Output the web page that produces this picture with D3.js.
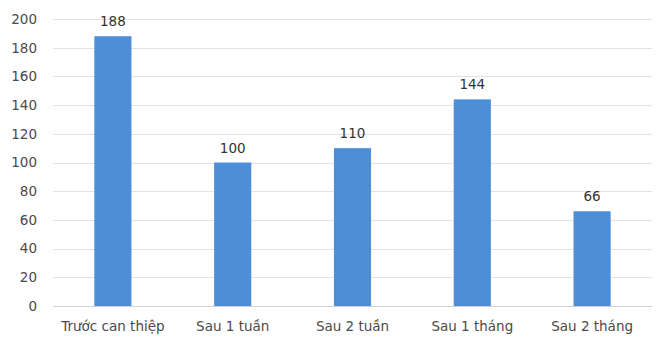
<!DOCTYPE html>
<html>
<head>
<meta charset="utf-8">
<script src="https://cdn.jsdelivr.net/npm/d3@7"></script>
<style>
  html, body { margin: 0; padding: 0; background: #fff; }
  svg { display: block; }
</style>
</head>
<body>
<svg id="chart" width="656" height="338"></svg>
<script>
// Stage labels and counts
const categories = ["Trước can thiệp", "Sau 1 tuần", "Sau 2 tuần", "Sau 1 tháng", "Sau 2 tháng"];
const values = [188, 100, 110, 144, 66];
const yTicks = [0, 20, 40, 60, 80, 100, 120, 140, 160, 180, 200];

const svg = d3.select("#chart");
const margin = { left: 53, right: 4, top: 19, bottom: 32 };
const W = 656, H = 338;
const font = "'DejaVu Sans', Verdana, sans-serif";

// Each category gets an equal slot; the bar fills about 31% of it
const barRatio = 0.31;
const x = d3.scaleBand()
  .domain(categories)
  .range([margin.left, W - margin.right])
  .paddingInner(1 - barRatio)
  .paddingOuter((1 - barRatio) / 2);

const y = d3.scaleLinear()
  .domain([0, 200])
  .range([H - margin.bottom, margin.top]);

// Horizontal gridlines
svg.append("g")
  .selectAll("line")
  .data(yTicks)
  .join("line")
  .attr("x1", margin.left)
  .attr("x2", W - margin.right)
  .attr("y1", d => Math.round(y(d)) + 0.5)
  .attr("y2", d => Math.round(y(d)) + 0.5)
  .attr("stroke", d => d === 0 ? "#d0d0d0" : "#e2e2e2")
  .attr("stroke-width", 1);

// Y axis labels
const yAxis = d3.axisLeft(y).tickValues(yTicks).tickSize(0).tickPadding(0);
const yg = svg.append("g")
  .attr("transform", `translate(${margin.left - 16},0)`)
  .call(yAxis);
yg.select(".domain").remove();
yg.selectAll("text")
  .attr("font-family", font)
  .attr("font-size", 13.5)
  .attr("fill", "#4a4a4a");

// Bars
svg.append("g")
  .selectAll("rect")
  .data(values)
  .join("rect")
  .attr("x", (d, i) => x(categories[i]))
  .attr("width", x.bandwidth())
  .attr("y", d => y(d))
  .attr("height", d => y(0) - y(d))
  .attr("fill", "#4d8ed6");

// Value labels above bars
svg.append("g")
  .selectAll("text")
  .data(values)
  .join("text")
  .attr("x", (d, i) => x(categories[i]) + x.bandwidth() / 2)
  .attr("y", d => y(d) - 10)
  .attr("text-anchor", "middle")
  .attr("font-family", font)
  .attr("font-size", 13.5)
  .attr("fill", "#333333")
  .text(d => d);

// Category axis labels
const xAxis = d3.axisBottom(x).tickSize(0).tickPadding(0);
const xg = svg.append("g")
  .attr("transform", `translate(0,${H - margin.bottom + 15})`)
  .call(xAxis);
xg.select(".domain").remove();
xg.selectAll("text")
  .attr("font-family", font)
  .attr("font-size", 13.5)
  .attr("fill", "#4a4a4a");
</script>
</body>
</html>
